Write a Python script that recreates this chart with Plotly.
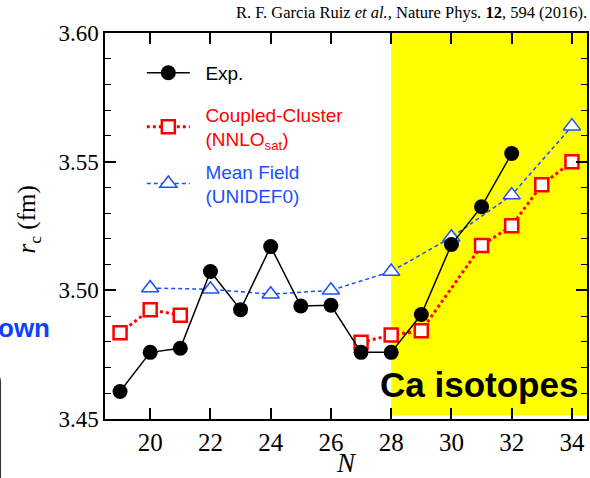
import plotly.graph_objects as go

# ---- data ----
exp_N = [19, 20, 21, 22, 23, 24, 25, 26, 27, 28, 29, 30, 31, 32]
exp_r = [3.4607, 3.4759, 3.4775, 3.5073, 3.4925, 3.5170, 3.4939, 3.4942,
         3.4759, 3.4759, 3.4906, 3.5178, 3.5325, 3.5532]

cc_N = [19, 20, 21, None, 27, 28, 29, 31, 32, 33, 34]
cc_r = [3.4835, 3.4925, 3.4903, None, 3.4798, 3.4826, 3.4843, 3.5174,
        3.5251, 3.5410, 3.5500]

mf_N = [20, 22, 24, 26, 28, 30, 32, 34]
mf_r = [3.5009, 3.5004, 3.4985, 3.5000, 3.5073, 3.5206, 3.5370, 3.5638]

x_ticks = [20, 22, 24, 26, 28, 30, 32, 34]
y_ticks = [3.45, 3.50, 3.55, 3.60]
y_ticklabels = ["3.45", "3.50", "3.55", "3.60"]

RED = "#ff0000"
BLUE = "#1a50ff"
SERIF = "Liberation Serif, Times New Roman, serif"
SANS = "Liberation Sans, Arial, sans-serif"
PAD = "&nbsp;&nbsp;"


def colored(lines, color):
    return "<br>".join('%s<span style="color:%s">%s</span>' % (PAD, color, t) for t in lines)


fig = go.Figure()

fig.add_trace(go.Scatter(
    x=mf_N, y=mf_r, mode="lines+markers",
    name=colored(["Mean Field", "(UNIDEF0)"], BLUE),
    line=dict(color=BLUE, width=1.5, dash="4px,3px"),
    marker=dict(symbol="triangle-up", size=15, color="white",
                line=dict(color=BLUE, width=1.5)),
    legend="legend3",
))

fig.add_trace(go.Scatter(
    x=cc_N, y=cc_r, mode="lines+markers", connectgaps=False,
    name=colored(["Coupled-Cluster", "(NNLO<sub>sat</sub>)"], RED),
    line=dict(color=RED, width=3, dash="dot"),
    marker=dict(symbol="square", size=13, color="white",
                line=dict(color=RED, width=2.5)),
    legend="legend2",
))

fig.add_trace(go.Scatter(
    x=exp_N, y=exp_r, mode="lines+markers",
    name=PAD + "Exp.",
    line=dict(color="black", width=1.5),
    marker=dict(symbol="circle", size=15, color="black"),
    legend="legend",
))

# yellow Ca-isotope band
fig.add_shape(type="rect", xref="x", yref="y", x0=28, x1=34.5,
              y0=3.4514, y1=3.60, fillcolor="#ffff00",
              line=dict(width=0), layer="below")

# partial rounded box at the left edge (cropped neighbour panel)
fig.add_shape(type="path", xref="paper", yref="paper",
              path="M -0.4,0.121 L -0.2375,0.121 Q -0.2169,0.121 -0.2169,0.095 L -0.2169,-0.3",
              line=dict(color="#333333", width=1.2))

fig.add_annotation(text="own", xref="paper", yref="paper",
                   x=-0.109, y=0.237, xanchor="right", yanchor="middle",
                   showarrow=False,
                   font=dict(family=SANS, size=26, color="#1040ff", weight="bold"))

fig.add_annotation(text="Ca isotopes", xref="x", yref="y",
                   x=34.27, y=3.4635, xanchor="right", yanchor="middle",
                   showarrow=False,
                   font=dict(family=SANS, size=35, color="black", weight="bold"))

fig.add_annotation(text="R. F. Garcia Ruiz <i>et al.</i>, Nature Phys. <b>12</b>, 594 (2016).",
                   xref="paper", yref="paper", x=1.005, y=1.054,
                   xanchor="right", yanchor="middle", showarrow=False,
                   font=dict(family=SERIF, size=16.5, color="black"))

# y-axis title
fig.add_annotation(text="<i>r</i><sub>c</sub> (fm)", xref="paper", yref="paper",
                   x=-0.159, y=0.518, xanchor="center", yanchor="middle",
                   textangle=-90, showarrow=False,
                   font=dict(family=SERIF, size=25, color="black"))

leg_common = dict(xanchor="left", yanchor="top", bgcolor="rgba(0,0,0,0)",
                  borderwidth=0, itemwidth=43,
                  font=dict(family=SANS, size=19, color="black"))

fig.update_layout(
    width=590, height=478,
    margin=dict(l=105, r=1, t=33, b=57),
    paper_bgcolor="white", plot_bgcolor="white",
    showlegend=True,
    legend=dict(x=0.0764, y=0.946, **leg_common),
    legend2=dict(x=0.0764, y=0.838, **leg_common),
    legend3=dict(x=0.0764, y=0.691, **leg_common),
    xaxis=dict(range=[18.5, 34.5], tickvals=x_ticks,
               ticks="inside", ticklen=11, tickwidth=1.5, tickcolor="black",
               showline=True, linecolor="black", linewidth=1.5, mirror="ticks",
               showgrid=False, zeroline=False,
               tickfont=dict(family=SERIF, size=25, color="black"),
               title=dict(text="<i>N</i>", font=dict(family=SERIF, size=27, color="black"),
                          standoff=2)),
    yaxis=dict(range=[3.45, 3.60], tickvals=y_ticks, ticktext=y_ticklabels,
               ticks="inside", ticklen=11, tickwidth=1.5, tickcolor="black",
               minor=dict(dtick=0.01, tick0=3.45, ticks="inside", ticklen=6,
                          tickwidth=1.2, tickcolor="black"),
               showline=True, linecolor="black", linewidth=1.5, mirror="ticks",
               showgrid=False, zeroline=False,
               tickfont=dict(family=SERIF, size=23, color="black")),
)

fig.write_html("out.html")
